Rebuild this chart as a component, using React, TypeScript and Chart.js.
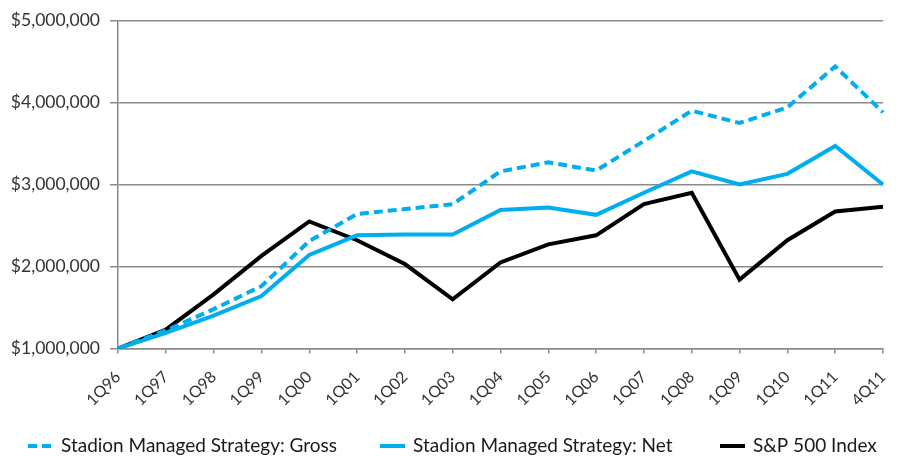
import React, { useEffect, useRef } from "react";
import { Chart, registerables } from "chart.js";

Chart.register(...registerables);

const categories = ["1Q96","1Q97","1Q98","1Q99","1Q00","1Q01","1Q02","1Q03","1Q04","1Q05","1Q06","1Q07","1Q08","1Q09","1Q10","1Q11","4Q11"];
const grossValues = [1000000,1220000,1480000,1760000,2310000,2640000,2700000,2760000,3160000,3270000,3170000,3530000,3900000,3750000,3940000,4440000,3880000];
const netValues = [1000000,1190000,1400000,1640000,2140000,2380000,2390000,2390000,2690000,2720000,2630000,2900000,3160000,3000000,3130000,3470000,3000000];
const spValues = [1000000,1230000,1660000,2130000,2550000,2320000,2030000,1600000,2050000,2270000,2380000,2760000,2900000,1840000,2320000,2670000,2730000];
const seriesLabels = ["Stadion Managed Strategy: Gross","Stadion Managed Strategy: Net","S&P 500 Index"];
const yTicks = [1000000,2000000,3000000,4000000,5000000];

const BLUE = "#00AEEF";
const FONT = "Lato, 'Open Sans', sans-serif";

const legendPlugin = {
  id: "customLegend",
  afterDraw(chart: any) {
    const ctx = chart.ctx;
    const xs = [28, 380, 720];
    const y = 446;
    ctx.save();
    chart.data.datasets.forEach((ds: any, i: number) => {
      const x = xs[i];
      ctx.beginPath();
      ctx.strokeStyle = ds.borderColor;
      ctx.lineWidth = 4;
      ctx.setLineDash(ds.borderDash || []);
      ctx.moveTo(x, y);
      ctx.lineTo(x + 25, y);
      ctx.stroke();
      ctx.setLineDash([]);
      ctx.fillStyle = "#1a1a1a";
      ctx.font = "19px " + FONT;
      ctx.textBaseline = "middle";
      ctx.textAlign = "left";
      ctx.fillText(ds.label, x + 33, y);
    });
    ctx.restore();
  },
};

export default function App() {
  const ref = useRef<HTMLCanvasElement | null>(null);
  useEffect(() => {
    if (!ref.current) return;
    const chart = new Chart(ref.current, {
      type: "line",
      data: {
        labels: categories,
        datasets: [
          { label: seriesLabels[0], data: grossValues, borderColor: BLUE, backgroundColor: BLUE, borderWidth: 4, borderDash: [9, 5], pointRadius: 0, tension: 0 },
          { label: seriesLabels[1], data: netValues, borderColor: BLUE, backgroundColor: BLUE, borderWidth: 4, pointRadius: 0, tension: 0 },
          { label: seriesLabels[2], data: spValues, borderColor: "#000000", backgroundColor: "#000000", borderWidth: 4, pointRadius: 0, tension: 0 },
        ],
      },
      options: {
        animation: false,
        responsive: false,
        maintainAspectRatio: false,
        layout: { padding: { left: 0, right: 20, top: 18, bottom: 0 } },
        plugins: { legend: { display: false }, tooltip: { enabled: false } },
        scales: {
          x: {
            offset: false,
            grid: { display: true, drawOnChartArea: false, tickLength: 5, color: "#8a8a8a", lineWidth: 1.5 },
            border: { display: true, color: "#8a8a8a", width: 1.5 },
            ticks: { minRotation: 45, maxRotation: 45, autoSkip: false, color: "#333", font: { family: FONT, size: 16 }, padding: 14 },
            afterFit: (s: any) => { s.height = 109.5; s.paddingLeft = 0; s.paddingRight = 0; },
          },
          y: {
            min: 1000000,
            max: 5000000,
            afterBuildTicks: (s: any) => { s.ticks = yTicks.map((v) => ({ value: v })); },
            grid: { color: "#8a8a8a", lineWidth: 1.5, tickLength: 8 },
            border: { display: true, color: "#8a8a8a", width: 1.5 },
            ticks: {
              color: "#333",
              padding: 10,
              font: { family: FONT, size: 17.5 },
              callback: (v: any) => "$" + Number(v).toLocaleString("en-US"),
            },
            afterFit: (s: any) => { s.width = 118; },
          },
        },
      },
      plugins: [legendPlugin],
    });
    return () => chart.destroy();
  }, []);
  return (
    <div style={{ position: "fixed", left: 0, top: 0, width: 903, height: 458, background: "#fff" }}>
      <canvas ref={ref} width={903} height={458} style={{ width: 903, height: 458 }} />
    </div>
  );
}
